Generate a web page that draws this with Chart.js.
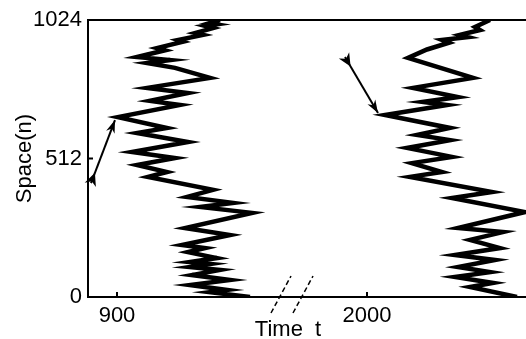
<!DOCTYPE html>
<html>
<head>
<meta charset="utf-8">
<script src="https://cdn.jsdelivr.net/npm/chart.js@4.4.1/dist/chart.umd.min.js"></script>
<style>
  html, body { margin: 0; padding: 0; background: #fff; overflow: hidden; }
  #wrap { width: 534px; height: 339px; }
</style>
</head>
<body>
<div id="wrap"><canvas id="cvs_fronte" width="534" height="339"></canvas></div>
<script>
// ticks
const tickTimes = [900, 2000];
const tickSpace = [0, 512, 1024];

// eixo do tempo quebrado: depois de 1500 tudo anda 850 para a esquerda
const quebraInicio = 1500;
const quebraSalto = 850;

// frente da esquerda (tempo, espaco)
const esqTempo = [1003, 992, 999, 988, 996, 978, 986, 961, 966, 940, 948, 920, 953, 930, 958, 993, 930, 971, 933, 963, 901,
  950, 920, 971, 915, 958, 920, 950, 931, 996, 970, 1016, 983, 1035, 968, 1013, 965, 988, 971,
  1000, 973, 993, 973, 1003, 975, 1013, 973, 1010, 993, 1033];
const esqEspaco = [1024, 1012, 1008, 1002, 994, 976, 969, 950, 944, 920, 912, 887, 876, 865, 847, 810, 773, 754, 725, 710, 665,
  625, 606, 573, 536, 514, 488, 462, 444, 396, 370, 348, 333, 311, 255, 229, 192, 181, 166,
  144, 129, 122, 111, 100, 81, 63, 44, 26, 18, 0];

// frente da direita
const dirTempo = [2123, 2108, 2113, 2093, 2101, 2075, 2082, 2060, 2041, 2106, 2046, 2091, 2056, 2080, 2018,
  2083, 2050, 2083, 2040, 2085, 2045, 2075, 2043, 2125, 2085, 2158, 2091, 2136, 2103, 2133,
  2088, 2128, 2091, 2123, 2088, 2126, 2103, 2150];
const dirEspaco = [1024, 998, 987, 969, 961, 950, 940, 915, 884, 810, 773, 739, 721, 710, 673,
  625, 599, 580, 551, 518, 495, 462, 444, 388, 366, 314, 255, 240, 211, 181,
  155, 137, 111, 92, 74, 52, 37, 0];

// setas (cauda -> ponta)
const setaSubindoTempo = [874, 898];
const setaSubindoEspaco = [421, 654];
const setaDescendoTempo = [1978, 2011];
const setaDescendoEspaco = [887, 680];

function paraEixo(t) {
  return t > quebraInicio ? t - quebraSalto : t;
}

function pontos(tempos, espacos) {
  return tempos.map((t, i) => ({ x: paraEixo(t), y: espacos[i] }));
}

const fonte = "'Liberation Sans', Arial, Helvetica, sans-serif";

const molduraPlugin = {
  id: "moldura",
  afterDraw(chart) {
    const ctx = chart.ctx;
    const a = chart.chartArea;
    const sx = chart.scales.x;
    const sy = chart.scales.y;
    ctx.save();
    ctx.strokeStyle = "#000";
    ctx.lineWidth = 2;
    ctx.strokeRect(a.left, a.top, a.right - a.left, a.bottom - a.top);

    // ticks para dentro
    ctx.beginPath();
    tickSpace.forEach((n) => {
      const y = sy.getPixelForValue(n);
      ctx.moveTo(a.left, y);
      ctx.lineTo(a.left + 5, y);
      ctx.moveTo(a.right, y);
      ctx.lineTo(a.right - 5, y);
    });
    tickTimes.forEach((t) => {
      const x = sx.getPixelForValue(paraEixo(t));
      ctx.moveTo(x, a.bottom);
      ctx.lineTo(x, a.bottom - 5);
    });
    ctx.stroke();

    // marcas da quebra do eixo
    const xq = sx.getPixelForValue(1075);
    ctx.lineWidth = 1.5;
    ctx.setLineDash([5, 3]);
    [-11, 11].forEach((dx) => {
      ctx.beginPath();
      ctx.moveTo(xq + dx - 10, a.bottom + 16);
      ctx.lineTo(xq + dx + 10, a.bottom - 21);
      ctx.stroke();
    });
    ctx.setLineDash([]);

    // titulo do eixo x
    ctx.fillStyle = "#000";
    ctx.font = "22px " + fonte;
    ctx.textAlign = "center";
    ctx.textBaseline = "alphabetic";
    ctx.fillText("Time  t", xq - 4, 336);

    // pontas e caudas das setas
    [2, 3].forEach((i) => {
      const pts = chart.getDatasetMeta(i).data;
      const t0 = pts[0], t1 = pts[1];
      let dx = t1.x - t0.x, dy = t1.y - t0.y;
      const len = Math.hypot(dx, dy);
      dx /= len; dy /= len;
      const nx = -dy, ny = dx;
      ctx.beginPath();
      ctx.moveTo(t1.x, t1.y);
      ctx.lineTo(t1.x - dx * 13 + nx * 4.5, t1.y - dy * 13 + ny * 4.5);
      ctx.lineTo(t1.x - dx * 9, t1.y - dy * 9);
      ctx.lineTo(t1.x - dx * 13 - nx * 4.5, t1.y - dy * 13 - ny * 4.5);
      ctx.closePath();
      ctx.fill();
      ctx.beginPath();
      ctx.moveTo(t0.x + dx * 11, t0.y + dy * 11);
      ctx.lineTo(t0.x - dx * 2 + nx * 6, t0.y - dy * 2 + ny * 6);
      ctx.lineTo(t0.x + dx * 2, t0.y + dy * 2);
      ctx.lineTo(t0.x - dx * 2 - nx * 6, t0.y - dy * 2 - ny * 6);
      ctx.closePath();
      ctx.fill();
    });
    ctx.restore();
  },
};

function linha(pts, largura) {
  return {
    data: pts,
    showLine: true,
    borderColor: "#000",
    backgroundColor: "#000",
    borderWidth: largura,
    pointRadius: 0,
    tension: 0,
    borderJoinStyle: "miter",
  };
}

new Chart(document.getElementById("cvs_fronte"), {
  type: "scatter",
  data: {
    datasets: [
      linha(pontos(esqTempo, esqEspaco), 4.5),
      linha(pontos(dirTempo, dirEspaco), 4.5),
      linha(pontos(setaSubindoTempo, setaSubindoEspaco), 2),
      linha(pontos(setaDescendoTempo, setaDescendoEspaco), 2),
    ],
  },
  options: {
    responsive: false,
    devicePixelRatio: 1,
    animation: false,
    layout: { padding: { top: 20, right: 3, left: 0, bottom: 0 } },
    plugins: { legend: { display: false }, tooltip: { enabled: false } },
    scales: {
      x: {
        type: "linear",
        min: 871,
        max: 1314,
        grid: { display: false, drawTicks: false },
        border: { display: false },
        afterBuildTicks: (s) => {
          s.ticks = tickTimes.map((t) => ({ value: paraEixo(t) }));
        },
        afterFit: (s) => { s.height = 42; },
        ticks: {
          color: "#000",
          padding: 6,
          maxRotation: 0,
          font: { size: 22, family: fonte },
          callback: (v) => {
            const i = tickTimes.findIndex((t) => paraEixo(t) === v);
            return i >= 0 ? String(tickTimes[i]) : "";
          },
        },
      },
      y: {
        min: 0,
        max: 1024,
        grid: { display: false, drawTicks: false },
        border: { display: false },
        afterBuildTicks: (s) => {
          s.ticks = tickSpace.map((n) => ({ value: n }));
        },
        afterFit: (s) => { s.width = 88; },
        ticks: {
          color: "#000",
          padding: 6,
          font: { size: 22, family: fonte },
          callback: (v) => String(v),
        },
        title: {
          display: true,
          text: "Space(n)",
          color: "#000",
          padding: { top: 12, bottom: 0 },
          font: { size: 22, family: fonte },
        },
      },
    },
  },
  plugins: [molduraPlugin],
});
</script>
</body>
</html>
